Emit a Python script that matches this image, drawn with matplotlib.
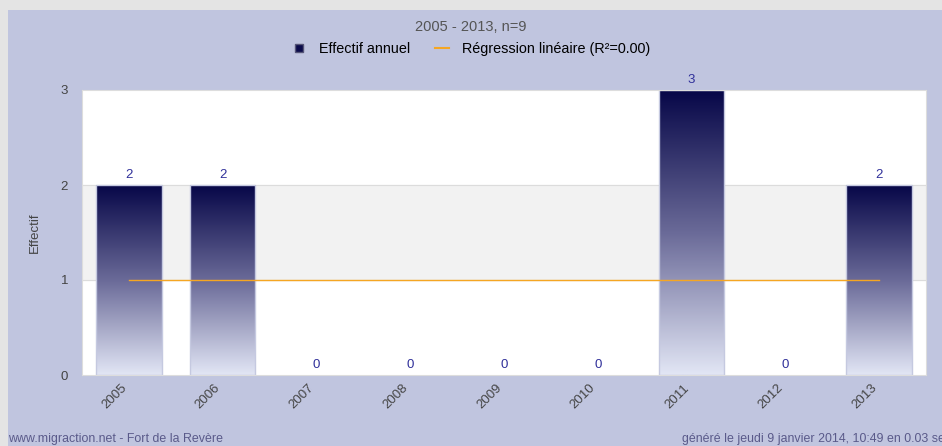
import matplotlib.pyplot as plt
import numpy as np
from matplotlib.lines import Line2D
from matplotlib.patches import Rectangle
from matplotlib.colors import LinearSegmentedColormap

plt.rcParams['font.family'] = ['Liberation Sans', 'DejaVu Sans']

years = ['2005', '2006', '2007', '2008', '2009', '2010', '2011', '2012', '2013']
effectif = [2, 2, 0, 0, 0, 0, 3, 0, 2]
regression = [1, 1, 1, 1, 1, 1, 1, 1, 1]

fig = plt.figure(figsize=(9.42, 4.46), dpi=100, facecolor='#e4e4e4')
# fond lavande
fig.patches.append(Rectangle((8 / 942, 0), 1, 436 / 446, transform=fig.transFigure,
                             facecolor='#c0c5df', edgecolor='none', zorder=-10))

ax = fig.add_axes([82 / 942, 71 / 446, 844 / 942, 285 / 446])
ax.set_facecolor('white')
x = np.arange(len(years))

# bandes alternées
ax.axhspan(1, 2, color='#f2f2f2', zorder=0)
for yv in [1, 2]:
    ax.axhline(yv, color='#dcdcdc', lw=0.8, zorder=0.5)

bars = ax.bar(x, effectif, width=0.7, color='none', edgecolor='#c5c9e0', lw=1, zorder=2)
grad = np.linspace(0, 1, 256).reshape(-1, 1)
cmap = LinearSegmentedColormap.from_list('b', ['#070748', '#6a6a98', '#e2e6f5'])
for b in bars:
    h = b.get_height()
    if h > 0:
        ax.imshow(grad, extent=(b.get_x(), b.get_x() + b.get_width(), 0, h),
                  cmap=cmap, aspect='auto', origin='upper', zorder=1.5)
    else:
        b.set_edgecolor('none')
ax.set_xlim(-0.5, len(years) - 0.5)
ax.set_ylim(0, 3)

ax.plot(x, regression, color='#f5a623', lw=1, zorder=3)

for xi, v in zip(x, effectif):
    ax.text(xi, v + 0.04, str(v), ha='center', va='bottom', fontsize=9.5, color='#30309a', zorder=4)

ax.set_xticks(x)
ax.set_xticklabels(years, rotation=45, ha='right', fontsize=9.5, color='#444444')
ax.set_yticks([0, 1, 2, 3])
ax.tick_params(axis='y', length=0, labelsize=9.5, labelcolor='#444444', pad=10)
ax.tick_params(axis='x', length=0, pad=5)
for s in ax.spines.values():
    s.set_color('#dddddd')
    s.set_linewidth(0.8)
ax.set_ylabel('Effectif', fontsize=9.5, color='#444444', labelpad=14)

fig.text(0.5, 1 - 27 / 446, '2005 - 2013, n=9', ha='center', va='center', fontsize=10.5, color='#555555')
handles = [Line2D([], [], marker='s', ls='none', color='#0a0a4a', markeredgecolor='#555577', markersize=6),
           Line2D([], [], color='#f5a623', lw=1.5)]
fig.legend(handles, ['Effectif annuel', 'Régression linéaire (R²=0.00)'], loc='center',
           bbox_to_anchor=(0.5, 1 - 49 / 446), ncol=2, frameon=False, fontsize=10.4,
           handlelength=1.0, columnspacing=1.7, handletextpad=0.9)

fig.text(8 / 942, 7 / 446, 'www.migraction.net - Fort de la Revère', ha='left', va='center',
         fontsize=8.9, color='#5a5a8a')
fig.text(682 / 942, 7 / 446, 'généré le jeudi 9 janvier 2014, 10:49 en 0.03 sec', ha='left', va='center',
         fontsize=8.9, color='#5a5a8a')

fig.savefig('out.png', dpi=100, facecolor=fig.get_facecolor())
